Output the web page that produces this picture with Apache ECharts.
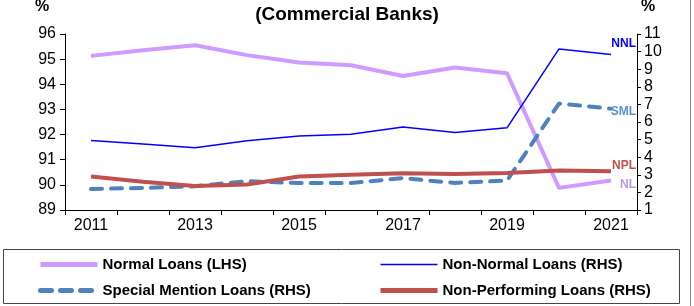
<!doctype html>
<html>
<head>
<meta charset="utf-8">
<title>Loan classification - Commercial Banks</title>
<style>
html, body { margin: 0; padding: 0; background: #fff; }
#main { width: 694px; height: 306px; }
</style>
</head>
<body>
<div id="main"></div>
<script src="https://cdn.jsdelivr.net/npm/echarts@6/dist/echarts.min.js"></script>
<script>
var years = ['2011', '2012', '2013', '2014', '2015', '2016', '2017', '2018', '2019', '2020', '2021'];
var normalLoans = [95.13, 95.35, 95.55, 95.16, 94.87, 94.76, 94.33, 94.67, 94.44, 89.88, 90.17];
var nonNormalLoans = [4.95, 4.75, 4.54, 4.93, 5.21, 5.31, 5.72, 5.41, 5.67, 10.15, 9.83];
var specialMention = [2.2, 2.25, 2.35, 2.64, 2.53, 2.53, 2.81, 2.54, 2.67, 7.05, 6.76];
var nonPerforming = [2.9, 2.6, 2.36, 2.45, 2.9, 3.0, 3.09, 3.05, 3.1, 3.24, 3.2];

var chart = echarts.init(document.getElementById('main'), null, { renderer: 'canvas' });
var font = 'Liberation Sans, Arial, sans-serif';

function endTag(text, color, dy) {
    return {
        show: true,
        formatter: text,
        color: color,
        fontFamily: font,
        fontWeight: 'bold',
        fontSize: 12,
        distance: 0,
        align: 'right',
        offset: [25, dy]
    };
}

var legendText = { fontSize: 15, fontWeight: 'bold', color: '#000', fontFamily: font };

chart.setOption({
    animation: false,
    textStyle: { fontFamily: font },
    title: {
        text: '(Commercial Banks)',
        left: 'center',
        top: 0,
        textStyle: { fontSize: 19, fontWeight: 'bold', color: '#000', fontFamily: font }
    },
    grid: { left: 65, right: 57, top: 34, bottom: 96 },
    legend: [{
        data: [
            { name: 'Normal Loans (LHS)', lineStyle: { width: 5 } },
            { name: 'Special Mention Loans (RHS)', lineStyle: { width: 5 } }
        ],
        orient: 'vertical',
        left: 38,
        top: 257,
        height: 49,
        padding: 0,
        itemWidth: 57,
        itemHeight: 12,
        itemGap: 11,
        itemStyle: { opacity: 0 },
        textStyle: legendText
    }, {
        data: [
            { name: 'Non-Normal Loans (RHS)', lineStyle: { width: 1.5 } },
            { name: 'Non-Performing Loans (RHS)', lineStyle: { width: 5 } }
        ],
        orient: 'vertical',
        left: 378,
        top: 257,
        height: 49,
        padding: 0,
        itemWidth: 57,
        itemHeight: 12,
        itemGap: 11,
        itemStyle: { opacity: 0 },
        textStyle: legendText
    }],
    graphic: [
        { type: 'rect', shape: { x: 3.5, y: 249.5, width: 676, height: 54 }, style: { fill: 'none', stroke: '#444', lineWidth: 1 } },
        { type: 'line', shape: { x1: 690.5, y1: 0, x2: 690.5, y2: 306 }, style: { stroke: '#888', lineWidth: 1 } },
        { type: 'text', left: 35, top: -1, style: { text: '%', fill: '#000', font: 'bold 16px Liberation Sans, Arial' } },
        { type: 'text', left: 641, top: -1, style: { text: '%', fill: '#000', font: 'bold 16px Liberation Sans, Arial' } }
    ],
    xAxis: {
        type: 'category',
        data: years,
        boundaryGap: true,
        axisLine: { lineStyle: { color: '#000', width: 1 } },
        axisTick: { show: true, interval: 0, length: 5, lineStyle: { color: '#000' } },
        axisLabel: { interval: 1, color: '#000', fontSize: 16, margin: 8 },
        splitLine: { show: false }
    },
    yAxis: [{
        type: 'value',
        min: 89,
        max: 96,
        interval: 1,
        axisLine: { show: true, lineStyle: { color: '#000' } },
        axisTick: { show: true, length: 5, lineStyle: { color: '#000' } },
        axisLabel: { color: '#000', fontSize: 16, margin: 9 },
        splitLine: { show: false }
    }, {
        type: 'value',
        min: 1,
        max: 11,
        interval: 1,
        position: 'right',
        axisLine: { show: true, lineStyle: { color: '#000' } },
        axisTick: { show: true, length: 4, lineStyle: { color: '#000' } },
        axisLabel: { color: '#000', fontSize: 16, margin: 7 },
        splitLine: { show: false }
    }],
    series: [{
        name: 'Normal Loans (LHS)',
        type: 'line',
        yAxisIndex: 0,
        data: normalLoans,
        symbol: 'none',
        lineStyle: { color: '#CF9BFF', width: 4 },
        itemStyle: { color: '#CF9BFF' },
        endLabel: endTag('NL', '#B79BE0', 4),
        z: 2
    }, {
        name: 'Non-Normal Loans (RHS)',
        type: 'line',
        yAxisIndex: 1,
        data: nonNormalLoans,
        symbol: 'none',
        lineStyle: { color: '#0000FF', width: 1.5 },
        itemStyle: { color: '#0000FF' },
        endLabel: endTag('NNL', '#0000FF', -11),
        z: 4
    }, {
        name: 'Special Mention Loans (RHS)',
        type: 'line',
        yAxisIndex: 1,
        data: specialMention,
        symbol: 'none',
        lineStyle: { color: '#4F81BD', width: 4, type: [11, 9], cap: 'round' },
        itemStyle: { color: '#4F81BD' },
        endLabel: endTag('SML', '#5B8FD0', 3),
        z: 3
    }, {
        name: 'Non-Performing Loans (RHS)',
        type: 'line',
        yAxisIndex: 1,
        data: nonPerforming,
        symbol: 'none',
        lineStyle: { color: '#C0504D', width: 4 },
        itemStyle: { color: '#C0504D' },
        endLabel: endTag('NPL', '#C0504D', -6),
        z: 3
    }]
});
</script>
</body>
</html>
